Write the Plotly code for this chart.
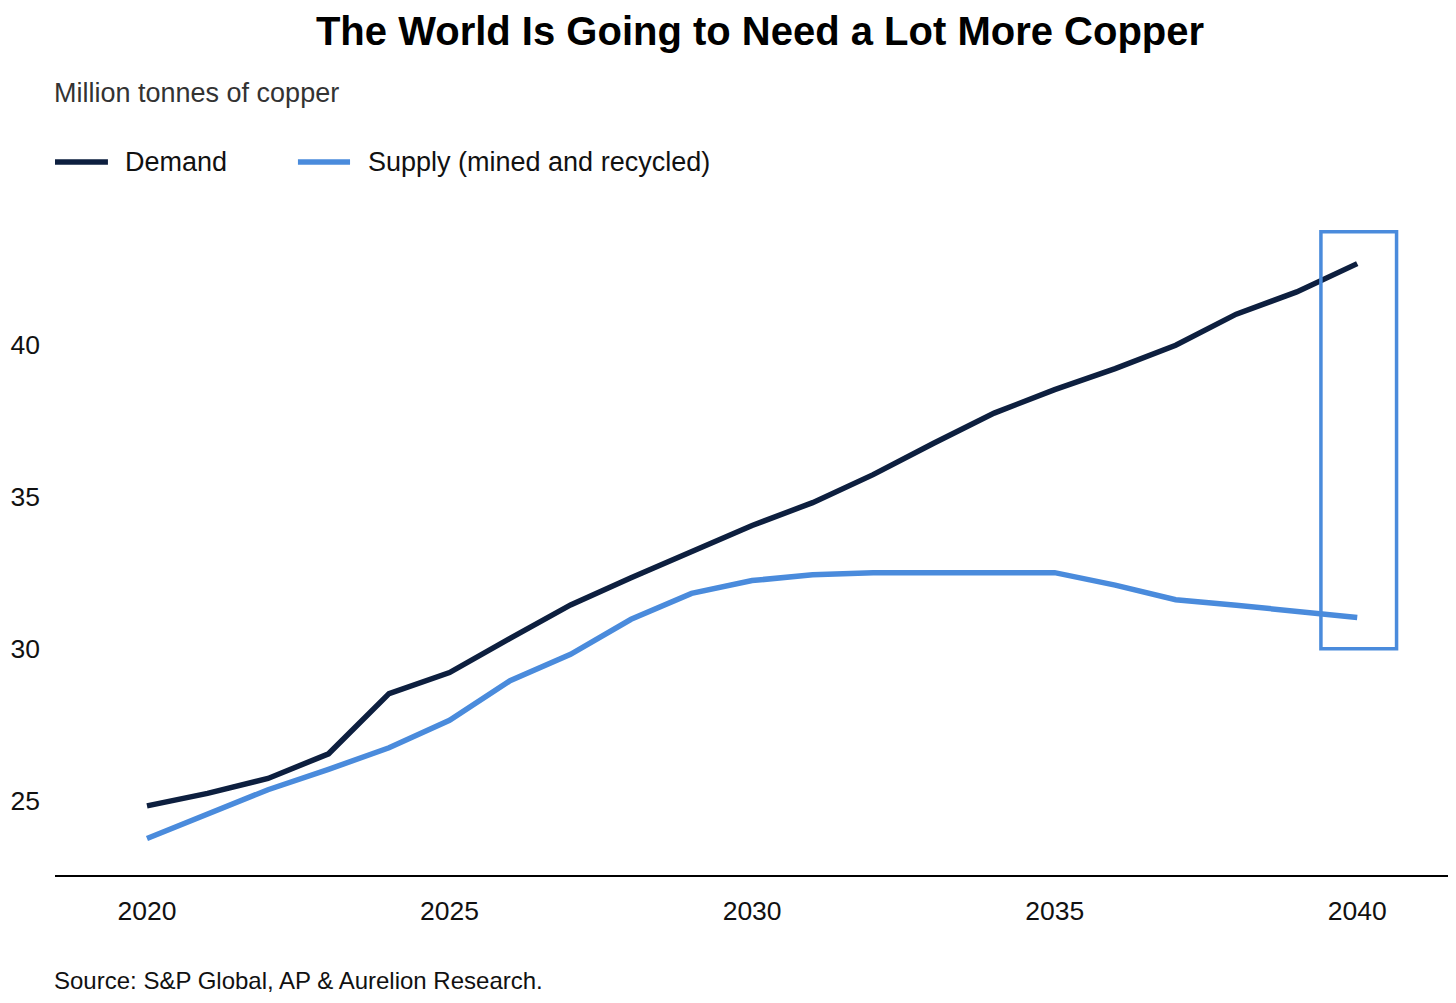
"""
Copper demand vs supply, 2020-2040 (Plotly HTML).
"""

import plotly.graph_objects as go

YEARS = list(range(2020, 2041))

DEMAND = [24.84, 25.25, 25.74, 26.55, 28.53, 29.22, 30.34, 31.44, 32.33, 33.17,
          34.05, 34.80, 35.72, 36.75, 37.74, 38.51, 39.20, 39.97, 40.99, 41.72,
          42.65]

SUPPLY = [23.77, 24.56, 25.37, 26.04, 26.75, 27.65, 28.95, 29.82, 30.97, 31.82,
          32.24, 32.43, 32.50, 32.50, 32.50, 32.50, 32.09, 31.61, 31.43, 31.25,
          31.03]

X_TICKS = [2020, 2025, 2030, 2035, 2040]
Y_TICKS = [25, 30, 35, 40]

# highlighted last year (box around 2040)
BOX_X = (2039.4, 2040.65)
BOX_Y = (30.0, 43.7)

NAVY = "#0d1f3f"
BLUE = "#4a8bdc"
FONT = "Liberation Sans, Arial, Helvetica, sans-serif"


def main():
    fig = go.Figure()

    fig.add_trace(go.Scatter(x=YEARS, y=DEMAND, mode="lines", name="Demand",
                             line=dict(color=NAVY, width=5.5), showlegend=False))
    fig.add_trace(go.Scatter(x=YEARS, y=SUPPLY, mode="lines",
                             name="Supply (mined and recycled)",
                             line=dict(color=BLUE, width=5.5), showlegend=False))

    fig.add_shape(type="rect", xref="x", yref="y",
                  x0=BOX_X[0], x1=BOX_X[1], y0=BOX_Y[0], y1=BOX_Y[1],
                  line=dict(color=BLUE, width=3.5), fillcolor="rgba(0,0,0,0)")

    # hand-made legend (wide line swatches)
    legend = [("Demand", NAVY, 0.0, 0.038, 0.0488),
              ("Supply (mined and recycled)", BLUE, 0.1744, 0.2118, 0.2233)]
    for label, color, x0, x1, xt in legend:
        fig.add_shape(type="line", xref="paper", yref="paper",
                      x0=x0, x1=x1, y0=1.0563, y1=1.0563,
                      line=dict(color=color, width=5.5))
        fig.add_annotation(xref="paper", yref="paper", x=xt, y=1.0563,
                           text=label, showarrow=False, xanchor="left",
                           yanchor="middle",
                           font=dict(size=27, color="#111111", family=FONT))

    fig.add_annotation(xref="paper", yref="paper", x=-0.002, y=1.1585,
                       text="Million tonnes of copper", showarrow=False,
                       xanchor="left", yanchor="middle",
                       font=dict(size=27, color="#333333", family=FONT))
    fig.add_annotation(xref="paper", yref="paper", x=-0.002, y=-0.1556,
                       text="Source: S&P Global, AP & Aurelion Research.",
                       showarrow=False, xanchor="left", yanchor="middle",
                       font=dict(size=24, color="#111111", family=FONT))

    # page body has an 8px margin, so the figure is offset by 8px
    fig.update_layout(
        width=1456,
        height=1003,
        paper_bgcolor="white",
        plot_bgcolor="white",
        font=dict(family=FONT, color="#111111"),
        title=dict(text="<b>The World Is Going to Need a Lot More Copper</b>",
                   x=0.5165, xanchor="center", y=0.977, yanchor="middle",
                   font=dict(size=40, color="#000000", family=FONT)),
        margin=dict(l=47, r=16, t=192, b=136),
        xaxis=dict(range=[2018.48, 2041.5], tickvals=X_TICKS,
                   showgrid=False, zeroline=False, automargin=False,
                   showline=True, linecolor="#000000", linewidth=2,
                   ticks="", ticklabelstandoff=11,
                   tickfont=dict(size=26.5, color="#111111")),
        yaxis=dict(range=[22.57, 44.74], tickvals=Y_TICKS,
                   showgrid=False, zeroline=False, showline=False,
                   automargin=False, ticks="", ticklabelstandoff=14,
                   tickfont=dict(size=26.5, color="#111111")),
    )

    fig.write_html("out.html")


if __name__ == "__main__":
    main()
